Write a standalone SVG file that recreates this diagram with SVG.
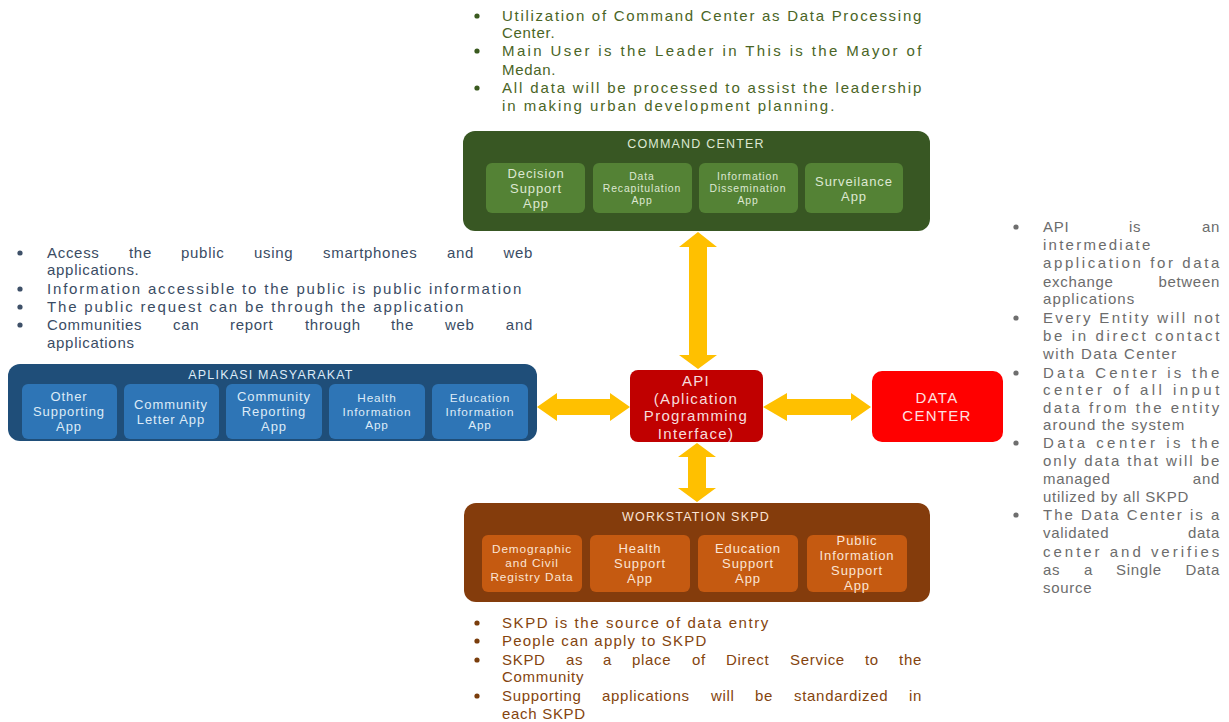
<svg xmlns="http://www.w3.org/2000/svg" width="1229" height="722" viewBox="0 0 1229 722">
<defs>
<style>
text{font-family:"Liberation Sans",Arial,sans-serif}
.n{font-size:15px;letter-spacing:0.7px}
.tg{fill:#4a6526}.tb{fill:#3a4c64}.tr{fill:#6c6c6c}.tw{fill:#84440e}
.bg{fill:#3a5a1f}.bb{fill:#3e5068}.br{fill:#6e6e6e}.bw{fill:#7a3d0c}
.c{text-anchor:middle}
.e{text-anchor:end}
.cc{fill:#385723}.ccin{fill:#548235}.cct{fill:#dde8d2}
.am{fill:#1f4e79}.amin{fill:#2e75b6}.amt{fill:#ddebf7}
.ws{fill:#843c0c}.wsin{fill:#c55a11}.wst{fill:#fbe5d6}
.ttl{font-size:12.5px;letter-spacing:1.2px}
.bx{letter-spacing:0.9px}
.arr{fill:#ffc000}
</style>
</defs>
<rect width="1229" height="722" fill="#ffffff"/>

<g id="notes-top" class="n tg">
<circle cx="477" cy="16" r="2.6" class="bg"/><circle cx="477" cy="51" r="2.6" class="bg"/><circle cx="477" cy="88" r="2.6" class="bg"/>
<text x="502" y="21" textLength="420" lengthAdjust="spacing">Utilization of Command Center as Data Processing</text>
<text x="502" y="38">Center.</text>
<text x="502" y="56" textLength="420" lengthAdjust="spacing">Main User is the Leader in This is the Mayor of</text>
<text x="502" y="75">Medan.</text>
<text x="502" y="93" textLength="420" lengthAdjust="spacing">All data will be processed to assist the leadership</text>
<text x="502" y="111" textLength="333" lengthAdjust="spacing">in making urban development planning.</text>
</g>

<g id="notes-left" class="n tb">
<circle cx="20" cy="253" r="2.6" class="bb"/><circle cx="20" cy="289" r="2.6" class="bb"/><circle cx="20" cy="307" r="2.6" class="bb"/><circle cx="20" cy="325" r="2.6" class="bb"/>
<text x="47" y="258">Access</text>
<text x="129" y="258">the</text>
<text x="181" y="258">public</text>
<text x="254" y="258">using</text>
<text x="323" y="258">smartphones</text>
<text x="447" y="258">and</text>
<text x="533" y="258" class="e">web</text>
<text x="47" y="275">applications.</text>
<text x="47" y="294" textLength="475" lengthAdjust="spacing">Information accessible to the public is public information</text>
<text x="47" y="312" textLength="417" lengthAdjust="spacing">The public request can be through the application</text>
<text x="47" y="330">Communities</text>
<text x="173" y="330">can</text>
<text x="230" y="330">report</text>
<text x="305" y="330">through</text>
<text x="391" y="330">the</text>
<text x="445" y="330">web</text>
<text x="533" y="330" class="e">and</text>
<text x="47" y="348">applications</text>
</g>

<g id="notes-right" class="n tr">
<circle cx="1016" cy="227" r="2.6" class="br"/><circle cx="1016" cy="318" r="2.6" class="br"/><circle cx="1016" cy="373" r="2.6" class="br"/><circle cx="1016" cy="443" r="2.6" class="br"/><circle cx="1016" cy="515" r="2.6" class="br"/>
<text x="1043" y="232">API</text>
<text x="1129" y="232">is</text>
<text x="1220" y="232" class="e">an</text>
<text x="1043" y="250" textLength="108" lengthAdjust="spacing">intermediate</text>
<text x="1043" y="268" textLength="177" lengthAdjust="spacing">application for data</text>
<text x="1043" y="287">exchange</text>
<text x="1220" y="287" class="e">between</text>
<text x="1043" y="304" textLength="92" lengthAdjust="spacing">applications</text>
<text x="1043" y="323" textLength="177" lengthAdjust="spacing">Every Entity will not</text>
<text x="1043" y="341" textLength="177" lengthAdjust="spacing">be in direct contact</text>
<text x="1043" y="359" textLength="134" lengthAdjust="spacing">with Data Center</text>
<text x="1043" y="378" textLength="177" lengthAdjust="spacing">Data Center is the</text>
<text x="1043" y="395" textLength="177" lengthAdjust="spacing">center of all input</text>
<text x="1043" y="413" textLength="177" lengthAdjust="spacing">data from the entity</text>
<text x="1043" y="430" textLength="142" lengthAdjust="spacing">around the system</text>
<text x="1043" y="448" textLength="177" lengthAdjust="spacing">Data center is the</text>
<text x="1043" y="466" textLength="177" lengthAdjust="spacing">only data that will be</text>
<text x="1043" y="484">managed</text>
<text x="1220" y="484" class="e">and</text>
<text x="1043" y="502" textLength="146" lengthAdjust="spacing">utilized by all SKPD</text>
<text x="1043" y="520" textLength="177" lengthAdjust="spacing">The Data Center is a</text>
<text x="1043" y="538">validated</text>
<text x="1220" y="538" class="e">data</text>
<text x="1043" y="557" textLength="177" lengthAdjust="spacing">center and verifies</text>
<text x="1043" y="575">as</text>
<text x="1084" y="575">a</text>
<text x="1116" y="575">Single</text>
<text x="1220" y="575" class="e">Data</text>
<text x="1043" y="593">source</text>
</g>

<g id="notes-bottom" class="n tw">
<circle cx="477" cy="623" r="2.6" class="bw"/><circle cx="477" cy="641" r="2.6" class="bw"/><circle cx="477" cy="660" r="2.6" class="bw"/><circle cx="477" cy="696" r="2.6" class="bw"/>
<text x="502" y="628" textLength="267" lengthAdjust="spacing">SKPD is the source of data entry</text>
<text x="502" y="646" textLength="205" lengthAdjust="spacing">People can apply to SKPD</text>
<text x="502" y="665">SKPD</text>
<text x="566" y="665">as</text>
<text x="603" y="665">a</text>
<text x="632" y="665">place</text>
<text x="692" y="665">of</text>
<text x="726" y="665">Direct</text>
<text x="790" y="665">Service</text>
<text x="865" y="665">to</text>
<text x="922" y="665" class="e">the</text>
<text x="502" y="682">Community</text>
<text x="502" y="701">Supporting</text>
<text x="602" y="701">applications</text>
<text x="711" y="701">will</text>
<text x="755" y="701">be</text>
<text x="794" y="701">standardized</text>
<text x="922" y="701" class="e">in</text>
<text x="502" y="719">each SKPD</text>
</g>

<g id="connectors">
<polygon class="arr" points="698,232 717,247 707,247 707,355 717,355 698,369 679,355 689,355 689,247 679,247"/>
<polygon class="arr" points="697,443 716,457 706,457 706,488 716,488 697,502 678,488 688,488 688,457 678,457"/>
<polygon class="arr" points="537,407 557,393 557,399 610,399 610,393 630,407 610,421 610,415 557,415 557,421"/>
<polygon class="arr" points="763,407 787,393 787,399 851,399 851,393 871,407 851,421 851,415 787,415 787,421"/>
</g>

<g id="command-center">
<rect x="463" y="131" width="467" height="100" rx="12" class="cc"/>
<text x="696" y="148" class="c cct ttl">COMMAND CENTER</text>
<rect x="486" y="163" width="99" height="50" rx="6" class="ccin"/>
<rect x="593" y="163" width="99" height="50" rx="6" class="ccin"/>
<rect x="699" y="163" width="99" height="50" rx="6" class="ccin"/>
<rect x="805" y="163" width="98" height="50" rx="6" class="ccin"/>
<g class="c cct bx" font-size="13">
<text x="536" y="178">Decision</text><text x="536" y="193">Support</text><text x="536" y="208">App</text>
<text x="854" y="186">Surveilance</text><text x="854" y="201">App</text>
</g>
<g class="c cct bx" font-size="10.4">
<text x="642" y="180">Data</text><text x="642" y="192">Recapitulation</text><text x="642" y="204">App</text>
<text x="748" y="180">Information</text><text x="748" y="192">Dissemination</text><text x="748" y="204">App</text>
</g>
</g>

<g id="aplikasi-masyarakat">
<rect x="8" y="364" width="529" height="77" rx="12" class="am"/>
<text x="271" y="379" class="c amt ttl">APLIKASI MASYARAKAT</text>
<rect x="22" y="384" width="95" height="55" rx="6" class="amin"/>
<rect x="124" y="384" width="95" height="55" rx="6" class="amin"/>
<rect x="226" y="384" width="96" height="55" rx="6" class="amin"/>
<rect x="329" y="384" width="96" height="55" rx="6" class="amin"/>
<rect x="432" y="384" width="96" height="55" rx="6" class="amin"/>
<g class="c amt bx" font-size="13">
<text x="69" y="401">Other</text><text x="69" y="416">Supporting</text><text x="69" y="431">App</text>
<text x="171" y="409">Community</text><text x="171" y="424">Letter App</text>
<text x="274" y="401">Community</text><text x="274" y="416">Reporting</text><text x="274" y="431">App</text>
</g>
<g class="c amt bx" font-size="11.8">
<text x="377" y="402">Health</text><text x="377" y="415.5">Information</text><text x="377" y="429">App</text>
<text x="480" y="402">Education</text><text x="480" y="415.5">Information</text><text x="480" y="429">App</text>
</g>
</g>

<g id="api">
<rect x="630" y="370" width="133" height="72" rx="8" fill="#c00000"/>
<g class="c" fill="#f6dcdc" font-size="15" letter-spacing="1.3">
<text x="696" y="386">API</text><text x="696" y="403.5">(Aplication</text><text x="696" y="421">Programming</text><text x="696" y="438.5">Interface)</text>
</g>
</g>

<g id="data-center">
<rect x="872" y="371" width="131" height="71" rx="10" fill="#ff0000"/>
<g class="c" fill="#fde0e0" font-size="15" letter-spacing="1.3">
<text x="937" y="403">DATA</text><text x="937" y="421">CENTER</text>
</g>
</g>

<g id="workstation-skpd">
<rect x="464" y="503" width="466" height="99" rx="12" class="ws"/>
<text x="696" y="521" class="c wst ttl">WORKSTATION SKPD</text>
<rect x="482" y="535" width="100" height="57" rx="6" class="wsin"/>
<rect x="590" y="535" width="100" height="57" rx="6" class="wsin"/>
<rect x="698" y="535" width="100" height="57" rx="6" class="wsin"/>
<rect x="807" y="535" width="100" height="57" rx="6" class="wsin"/>
<g class="c wst bx" font-size="11.8">
<text x="532" y="553">Demographic</text><text x="532" y="567">and Civil</text><text x="532" y="581">Registry Data</text>
</g>
<g class="c wst bx" font-size="13">
<text x="640" y="553">Health</text><text x="640" y="568">Support</text><text x="640" y="583">App</text>
<text x="748" y="553">Education</text><text x="748" y="568">Support</text><text x="748" y="583">App</text>
<text x="857" y="545">Public</text><text x="857" y="560">Information</text><text x="857" y="575">Support</text><text x="857" y="590">App</text>
</g>
</g>
</svg>
